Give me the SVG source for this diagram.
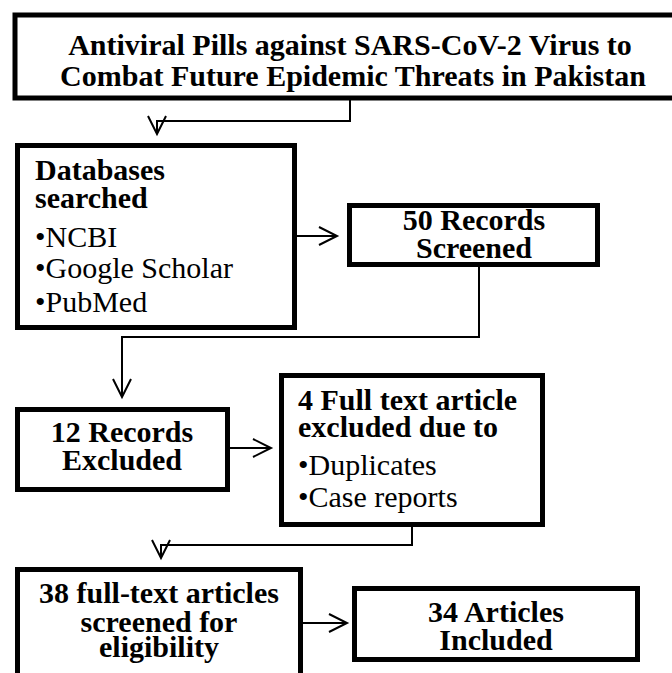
<svg xmlns="http://www.w3.org/2000/svg" width="672" height="673" viewBox="0 0 672 673">
<defs>
<marker id="arr" markerUnits="userSpaceOnUse" markerWidth="24" markerHeight="24" viewBox="-2 -2 24 24" refX="18" refY="9" orient="auto">
<path d="M0,0 L18,9 L0,18" fill="none" stroke="#000" stroke-width="2"/>
</marker>
</defs>
<style>
.box{fill:#fff;stroke:#000;stroke-width:5}
.b{font-family:"Liberation Serif","Times New Roman",serif;font-weight:bold;font-size:30px;fill:#000}
.r{font-family:"Liberation Serif","Times New Roman",serif;font-size:30px;fill:#000}
.c{text-anchor:middle}
.conn{fill:none;stroke:#000;stroke-width:2}
</style>
<rect width="672" height="673" fill="#fff"/>
<g id="connectors">
<path class="conn" d="M350,100 V121 H157 V134" marker-end="url(#arr)"/>
<path class="conn" d="M297,236 H337" marker-end="url(#arr)"/>
<path class="conn" d="M479,267 V337 H122 V397" marker-end="url(#arr)"/>
<path class="conn" d="M230,448 H271" marker-end="url(#arr)"/>
<path class="conn" d="M412,527 V545 H161 V558" marker-end="url(#arr)"/>
<path class="conn" d="M303,623 H347" marker-end="url(#arr)"/>
</g>
<g id="title">
<rect class="box" x="15" y="15" width="700" height="83" stroke-width="4"/>
<text class="b c" x="350" y="55" font-size="33">Antiviral Pills against SARS-CoV-2 Virus to</text>
<text class="b c" x="353" y="86" font-size="33">Combat Future Epidemic Threats in Pakistan</text>
</g>
<g id="databases">
<rect class="box" x="17.5" y="145.5" width="277" height="182"/>
<text class="b" x="35" y="180">Databases</text>
<text class="b" x="35" y="208">searched</text>
<text class="r" x="35" y="247">•NCBI</text>
<text class="r" x="35" y="278">•Google Scholar</text>
<text class="r" x="35" y="312">•PubMed</text>
</g>
<g id="screened">
<rect class="box" x="349.5" y="205.5" width="248" height="59"/>
<text class="b c" x="474" y="230">50 Records</text>
<text class="b c" x="474" y="258">Screened</text>
</g>
<g id="excluded">
<rect class="box" x="17.5" y="409.5" width="210" height="80"/>
<text class="b c" x="122" y="442">12 Records</text>
<text class="b c" x="122" y="470">Excluded</text>
</g>
<g id="fulltext-excluded">
<rect class="box" x="281.5" y="375.5" width="261" height="149"/>
<text class="b" x="298" y="410">4 Full text article</text>
<text class="b" x="298" y="437">excluded due to</text>
<text class="r" x="298" y="475">•Duplicates</text>
<text class="r" x="298" y="507">•Case reports</text>
</g>
<g id="eligibility">
<rect class="box" x="17.5" y="569.5" width="283" height="120"/>
<text class="b c" x="159" y="603">38 full-text articles</text>
<text class="b c" x="159" y="632">screened for</text>
<text class="b c" x="159" y="657">eligibility</text>
</g>
<g id="included">
<rect class="box" x="354.5" y="588.5" width="283" height="71"/>
<text class="b c" x="496" y="622">34 Articles</text>
<text class="b c" x="496" y="650">Included</text>
</g>
</svg>
